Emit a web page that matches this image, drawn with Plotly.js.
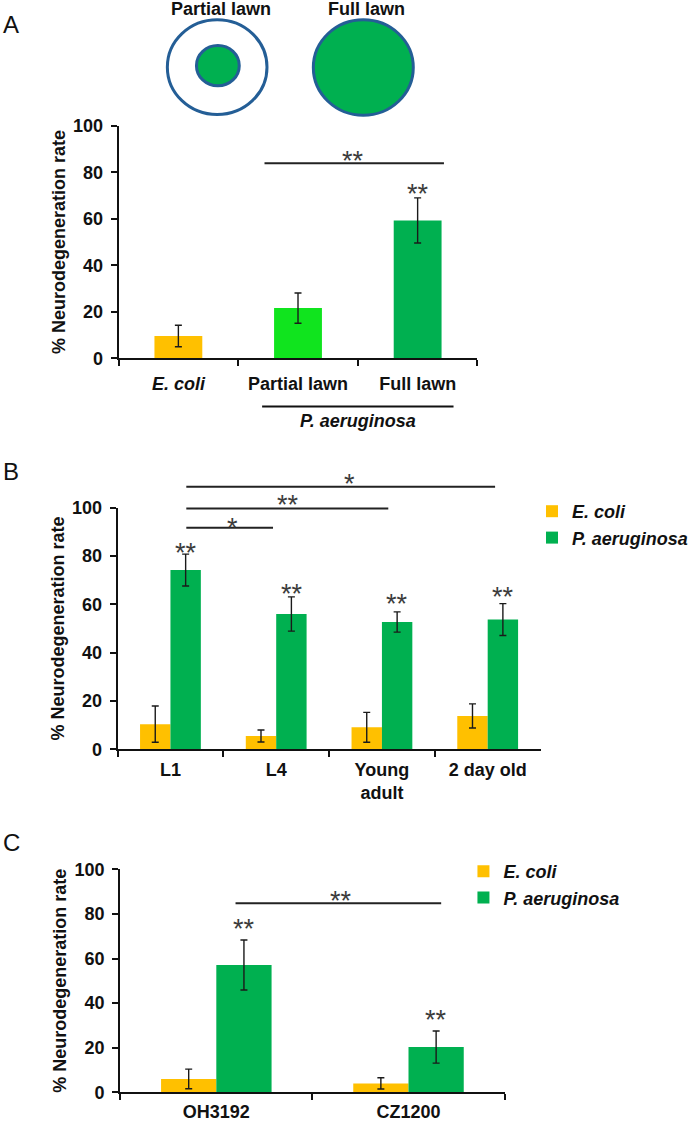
<!DOCTYPE html>
<html><head><meta charset="utf-8">
<script src="https://cdn.plot.ly/plotly-3.0.1.min.js"></script>
<style>html,body{margin:0;padding:0;background:#fff}#chart{width:693px;height:1121px}</style>
</head><body><div id="chart"></div>
<script>
// ---------- Panel A data ----------
const aCategories = ['E. coli', 'Partial lawn', 'Full lawn'];
const aValues = [9.6, 21.6, 59.3];
const aErrors = [4.6, 6.5, 9.7];

// ---------- Panel B data ----------
const bCategories = ['L1', 'L4', 'Young adult', '2 day old'];
const bTickLabels = ['L1', 'L4', 'Young<br>adult', '2 day old'];
const bEcoli = [10.4, 5.5, 9.1, 13.8];
const bEcoliErr = [7.5, 2.5, 6.2, 5.0];
const bPa = [74.2, 56.0, 52.7, 53.7];
const bPaErr = [6.6, 7.1, 4.2, 6.6];

// ---------- Panel C data ----------
const cCategories = ['OH3192', 'CZ1200'];
const cEcoli = [6.0, 4.0];
const cEcoliErr = [4.4, 2.5];
const cPa = [57.1, 20.3];
const cPaErr = [11.2, 7.2];

const seriesNames = ['E. coli', 'P. aeruginosa'];
const yTitle = '% Neurodegeneration rate';
const yTicks = [0, 20, 40, 60, 80, 100];

// ---------- styles / geometry ----------
const W = 693, H = 1121;
const FONT = 'Liberation Sans, Arial, sans-serif';
const ORANGE = '#FFC000', GREEN = '#00B050', BRIGHT = '#10E41E';
const OUTLINE = '#245E96';
const STAR = '#3c3c3c';
const px = p => p / W;
const py = p => 1 - p / H;

const domA = {x: [px(121), px(487.3)], y: [py(358.3), py(125.8)]};
const domB = {x: [px(120), px(551.7)], y: [py(749.3), py(507.7)]};
const domC = {x: [px(122.7), px(515)], y: [py(1092.3), py(869.3)]};
const vy = (dom, v) => dom.y[0] + v / 100 * (dom.y[1] - dom.y[0]);

const errStyle = (arr) => ({type: 'data', array: arr, visible: true, color: '#1a1a1a', thickness: 1.4, width: 3.5});

const traces = [
  {type: 'bar', x: aCategories, y: aValues, xaxis: 'x', yaxis: 'y', width: 0.4,
   marker: {color: [ORANGE, BRIGHT, GREEN]}, error_y: errStyle(aErrors), showlegend: false, hoverinfo: 'x+y'},
  {type: 'bar', name: seriesNames[0], x: bCategories, y: bEcoli, xaxis: 'x2', yaxis: 'y2',
   marker: {color: ORANGE}, error_y: errStyle(bEcoliErr), legend: 'legend'},
  {type: 'bar', name: seriesNames[1], x: bCategories, y: bPa, xaxis: 'x2', yaxis: 'y2',
   marker: {color: GREEN}, error_y: errStyle(bPaErr), legend: 'legend'},
  {type: 'bar', name: seriesNames[0], x: cCategories, y: cEcoli, xaxis: 'x3', yaxis: 'y3',
   marker: {color: ORANGE}, error_y: errStyle(cEcoliErr), legend: 'legend2'},
  {type: 'bar', name: seriesNames[1], x: cCategories, y: cPa, xaxis: 'x3', yaxis: 'y3',
   marker: {color: GREEN}, error_y: errStyle(cPaErr), legend: 'legend2'}
];

const tickFont = {family: FONT, size: 18, color: '#111', weight: 'bold'};
function xAxis(dom, anchor, vals, texts, standoff) {
  return {domain: dom.x, anchor: anchor, type: 'category', tickvals: vals, ticktext: texts,
    showline: true, linecolor: '#111', linewidth: 2, ticks: 'outside', tickson: 'boundaries',
    ticklen: 6, tickwidth: 2, tickcolor: '#111', showgrid: false, zeroline: false,
    tickfont: tickFont, ticklabelstandoff: standoff, fixedrange: true};
}
function yAxis(dom, anchor) {
  return {domain: dom.y, anchor: anchor, range: [0, 100], tickvals: yTicks,
    showline: true, linecolor: '#111', linewidth: 2, ticks: 'outside', ticklen: 6, tickwidth: 2,
    tickcolor: '#111', showgrid: false, zeroline: false, tickfont: tickFont, ticklabelstandoff: 4,
    title: {text: yTitle, font: {family: FONT, size: 18, color: '#111', weight: 'bold'}, standoff: 3},
    fixedrange: true};
}

const shapes = [];
const annotations = [];
function bracket(xa, dom, x0, x1, y, label, lx, ly) {
  shapes.push({type: 'line', xref: xa, yref: 'paper', x0: x0, x1: x1, y0: vy(dom, y), y1: vy(dom, y),
    line: {color: '#222', width: 2}});
  annotations.push(star(xa, dom, lx, ly, label));
}
function star(xa, dom, x, y, label) {
  return {xref: xa, yref: 'paper', x: x, y: vy(dom, y), text: label, showarrow: false,
    xanchor: 'center', yanchor: 'middle', yshift: -6,
    font: {family: FONT, size: 27, color: STAR}};
}
// Panel A significance
bracket('x', domA, 0.72, 2.22, 83.9, '**', 1.46, 87.4);
annotations.push(star('x', domA, 2, 73.2, '**'));
// P. aeruginosa group line under panel A
shapes.push({type: 'line', xref: 'x', yref: 'paper', x0: 0.70, x1: 2.30, y0: py(406.5), y1: py(406.5),
  line: {color: '#111', width: 2}});
annotations.push({xref: 'x', yref: 'paper', x: 1.5, y: py(421), text: '<i>P. aeruginosa</i>', showarrow: false,
  xanchor: 'center', yanchor: 'middle', font: {family: FONT, size: 18, color: '#111', weight: 'bold'}});
// Panel B significance
bracket('x2', domB, 0.15, 3.07, 108.7, '*', 1.69, 112.2);
bracket('x2', domB, 0.15, 2.06, 99.7, '**', 1.11, 103.5);
bracket('x2', domB, 0.15, 0.97, 91.7, '*', 0.59, 94.2);
[[0, 83.9], [1, 66.6], [2, 62.8], [3, 65.5]].forEach(s => annotations.push(star('x2', domB, s[0] + 0.145, s[1], '**')));
// Panel C significance
bracket('x3', domC, 0.10, 1.17, 84.8, '**', 0.65, 88.5);
[[0, 75.8], [1, 35.1]].forEach(s => annotations.push(star('x3', domC, s[0] + 0.145, s[1], '**')));

// Illustration circles for panel A
shapes.push({type: 'circle', xref: 'paper', yref: 'paper', x0: px(170.8), x1: px(272.5), y0: py(114.5), y1: py(19.8),
  line: {color: OUTLINE, width: 3}, fillcolor: 'rgba(0,0,0,0)'});
shapes.push({type: 'circle', xref: 'paper', yref: 'paper', x0: px(200.5), x1: px(244.2), y0: py(85.8), y1: py(45.5),
  line: {color: OUTLINE, width: 3}, fillcolor: GREEN});
shapes.push({type: 'circle', xref: 'paper', yref: 'paper', x0: px(319.8), x1: px(421.8), y0: py(115.2), y1: py(19.8),
  line: {color: OUTLINE, width: 3}, fillcolor: GREEN});
[['Partial lawn', 226], ['Full lawn', 374]].forEach(t => annotations.push({xref: 'paper', yref: 'paper',
  x: px(t[1]), y: py(9), text: t[0], showarrow: false, xanchor: 'center', yanchor: 'middle',
  font: {family: FONT, size: 18, color: '#111', weight: 'bold'}}));
// Panel letters
[['A', 25], ['B', 471.5], ['C', 843]].forEach(t => annotations.push({xref: 'paper', yref: 'paper',
  x: px(1), y: py(t[1]), text: t[0], showarrow: false, xanchor: 'left', yanchor: 'middle',
  font: {family: FONT, size: 24, color: '#111'}}));

const legendFont = {family: FONT, size: 18, color: '#111', weight: 'bold', style: 'italic'};
const layout = {
  width: W, height: H, margin: {l: 0, r: 0, t: 0, b: 0},
  paper_bgcolor: '#fff', plot_bgcolor: '#fff',
  barmode: 'group', bargap: 0.425, bargroupgap: 0,
  xaxis: xAxis(domA, 'y', aCategories, aCategories.map(c => c === 'E. coli' ? '<i>' + c + '</i>' : c), 8),
  yaxis: yAxis(domA, 'x'),
  xaxis2: xAxis(domB, 'y2', bCategories, bTickLabels, 3),
  yaxis2: yAxis(domB, 'x2'),
  xaxis3: xAxis(domC, 'y3', cCategories, cCategories, 2),
  yaxis3: yAxis(domC, 'x3'),
  legend: {x: px(543), y: py(493), xanchor: 'left', yanchor: 'top', font: legendFont, bgcolor: 'rgba(0,0,0,0)'},
  legend2: {x: px(473), y: py(853), xanchor: 'left', yanchor: 'top', font: legendFont, bgcolor: 'rgba(0,0,0,0)'},
  shapes: shapes, annotations: annotations, showlegend: true
};
Plotly.newPlot('chart', traces, layout, {displayModeBar: false, staticPlot: true});
</script></body></html>
